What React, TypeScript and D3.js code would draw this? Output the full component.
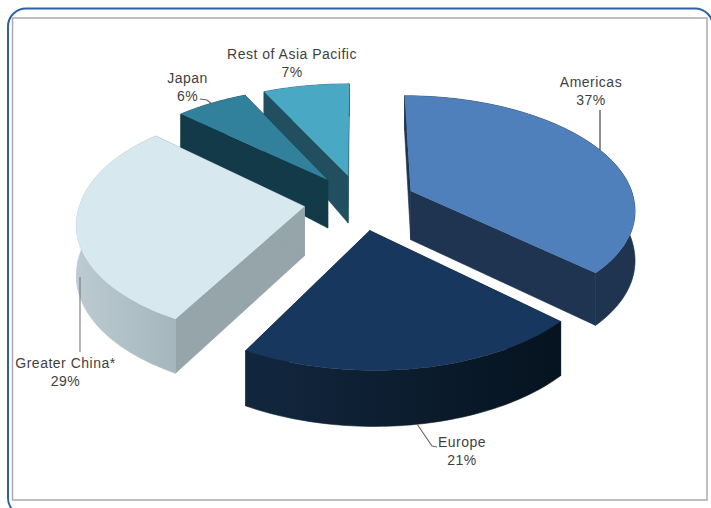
import React from "react";
import * as d3 from "d3";

// Revenue share by region, clockwise from twelve o'clock
const regions = ["Americas", "Europe", "Greater China*", "Japan", "Rest of Asia Pacific"];
const shares = [37, 21, 29, 6, 7];

// Face colours per region
const topColors = ["#4f80bb", "#17375e", "#d7e8ef", "#31809c", "#49a8c4"];
const wallColors = ["#1f3450", "#0b1e33", "#96a5aa", "#133a48", "#214f5f"];
const rimStart = ["#1f3450", "#12273f", "#bccbd2", "#133a48", "#214f5f"];
const rimEnd = ["#1f3450", "#06131f", "#a5b6bc", "#133a48", "#214f5f"];

// Callouts: text lines, anchor and leader polyline
const labelLines = [
  ["Americas", "37%"],
  ["Europe", "21%"],
  ["Greater China*", "29%"],
  ["Japan", "6%"],
  ["Rest of Asia Pacific", "7%"],
];
const labelX = [591, 462, 65.5, 187.5, 292];
const labelY = [87, 447, 368, 83, 59];
const leaders: [number, number][][] = [
  [[600, 110], [600, 150]],
  [[417, 424], [432, 446], [437, 447]],
  [[80, 277], [80, 352]],
  [[200, 99], [207, 100], [213, 105]],
  [],
];
const leaderColors = ["#333", "#666", "#777", "#666", "#666"];

const W = 711;
const H = 508;
const CX = 360;
const CY = 202;
const RX = 224;
const RY = 111.5;
const FRONT_SKEW = 3;
const BACK_FLARE = 6;
const PERSPECTIVE = 0.14;
const EXPLODE = 0.25;

// Wall height shrinks towards the back of the pie
const wallHeight = d3.scaleLinear().domain([-1.2, -0.2, 1.25]).range([33, 48, 56]);

type P = [number, number];

// Projects a point of the pie's plane onto the screen; drop moves it down to the base
function project(x: number, y: number, drop = 0): P {
  const w = 1 - PERSPECTIVE * y;
  const shear = FRONT_SKEW * Math.max(y, 0) - BACK_FLARE * Math.min(x, 0) * Math.min(y, 0);
  return [CX + (RX * x) / w + shear, CY + (RY * y) / w + drop * wallHeight(y)];
}

const arcs = d3.pie<number>().sort(null).startAngle(0).endAngle(2 * Math.PI)(shares);
const line = d3.line<P>();

function slice(i: number) {
  const a = arcs[i];
  const mid = (a.startAngle + a.endAngle) / 2;
  const ox = EXPLODE * Math.sin(mid);
  const oy = -EXPLODE * Math.cos(mid);
  const at = (t: number, drop = 0) => project(ox + Math.sin(t), oy - Math.cos(t), drop);
  const angles = d3.range(0, 61).map((k) => a.startAngle + ((a.endAngle - a.startAngle) * k) / 60);
  const rimTop = angles.map((t) => at(t));
  const rimBottom = angles.map((t) => at(t, 1));
  const apex = project(ox, oy);
  const apexLow = project(ox, oy, 1);
  const face = (t: number) => [apex, at(t), at(t, 1), apexLow] as P[];
  return {
    apexY: apex[1],
    top: line([apex, ...rimTop])! + "Z",
    rim: line([...rimTop, ...rimBottom.reverse()])! + "Z",
    startFace: line(face(a.startAngle))! + "Z",
    endFace: line(face(a.endAngle))! + "Z",
    rimX: d3.extent(rimTop, (p) => p[0]) as [number, number],
  };
}

const slices = regions.map((_, i) => ({ i, ...slice(i) })).sort((p, q) => p.apexY - q.apexY);

// Card outline: open on the lower right, where it runs off the page
const cardOutline = d3.path();
cardOutline.moveTo(26, 516);
cardOutline.arcTo(8, 516, 8, 498, 18);
cardOutline.lineTo(8, 26);
cardOutline.arcTo(8, 8.5, 26, 8.5, 18);
cardOutline.lineTo(695, 8.5);
cardOutline.arcTo(713, 8.5, 713, 26, 18);

export default function App() {
  return (
    <svg
      width={W}
      height={H}
      viewBox={`0 0 ${W} ${H}`}
      style={{ position: "absolute", left: 0, top: 0, display: "block", background: "#fff" }}
    >
      <defs>
        {slices.map((s) => (
          <linearGradient
            key={s.i}
            id={`rim-${s.i}`}
            gradientUnits="userSpaceOnUse"
            x1={s.rimX[0]}
            x2={s.rimX[1]}
            y1={0}
            y2={0}
          >
            <stop offset="0" stopColor={rimStart[s.i]} />
            <stop offset="1" stopColor={rimEnd[s.i]} />
          </linearGradient>
        ))}
      </defs>

      <path d={cardOutline.toString()} fill="none" stroke="#2a62a8" strokeWidth={2} />
      <rect x={12.5} y={18} width={694.5} height={482} fill="#fff" stroke="#ababab" strokeWidth={1.5} />

      {slices.map((s) => (
        <g key={s.i}>
          <path d={s.startFace} fill={wallColors[s.i]} stroke={wallColors[s.i]} strokeWidth={0.6} />
          <path d={s.endFace} fill={wallColors[s.i]} stroke={wallColors[s.i]} strokeWidth={0.6} />
          <path d={s.rim} fill={`url(#rim-${s.i})`} stroke={`url(#rim-${s.i})`} strokeWidth={0.6} />
          <path d={s.top} fill={topColors[s.i]} />
        </g>
      ))}

      {leaders.map((pts, i) =>
        pts.length ? (
          <path key={i} d={line(pts)!} fill="none" stroke={leaderColors[i]} strokeWidth={1.1} />
        ) : null
      )}

      {labelLines.map((lines, i) => (
        <text
          key={i}
          textAnchor="middle"
          fontFamily="'Liberation Sans', Arial, sans-serif"
          fontSize={14}
          letterSpacing={0.5}
          fill="#3f3f3f"
        >
          {lines.map((t, k) => (
            <tspan key={k} x={labelX[i]} y={labelY[i] + k * 18}>
              {t}
            </tspan>
          ))}
        </text>
      ))}
    </svg>
  );
}
